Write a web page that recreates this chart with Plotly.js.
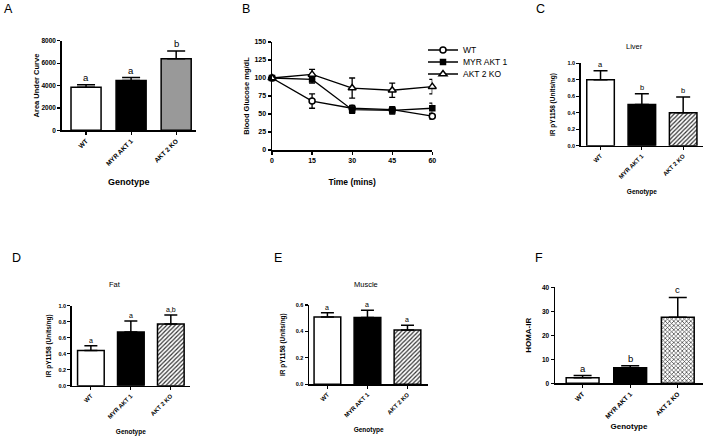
<!DOCTYPE html>
<html><head><meta charset="utf-8">
<script src="https://cdn.plot.ly/plotly-3.0.1.min.js"></script>
<style>html,body{margin:0;padding:0;background:#fff}#chart{width:708px;height:438px}</style>
</head><body><div id="chart"></div>
<script>
// ---------- data ----------
const genotypes = ['WT', 'MYR AKT 1', 'AKT 2 KO'];

const aucMean = [3840, 4450, 6390];
const aucErr = [230, 260, 680];
const aucLetters = ['a', 'a', 'b'];

const timeMins = [0, 15, 30, 45, 60];
const wtGlucose = [100, 68, 58, 56, 47];
const wtGlucoseErr = [1, 10, 4, 4, 4];
const myrGlucose = [100, 98, 56, 55, 58];
const myrGlucoseErr = [1, 5, 5, 5, 7];
const akt2Glucose = [100, 105, 86, 83, 88];
const akt2GlucoseErr = [1, 7, 14, 10, 10];

const liverMean = [0.80, 0.50, 0.40];
const liverErr = [0.11, 0.13, 0.19];
const liverLetters = ['a', 'b', 'b'];

const fatMean = [0.44, 0.67, 0.77];
const fatErr = [0.06, 0.14, 0.115];
const fatLetters = ['a', 'a', 'a,b'];

const muscleMean = [0.51, 0.505, 0.41];
const muscleErr = [0.032, 0.055, 0.037];
const muscleLetters = ['a', 'a', 'a'];

const homaMean = [2.3, 6.5, 27.5];
const homaErr = [0.9, 0.8, 8.3];
const homaLetters = ['a', 'b', 'c'];

// ---------- helpers ----------
const FONT = 'Liberation Sans, Arial, sans-serif';
const W = 708, H = 438;
const px = v => v / W;
const py = v => 1 - v / H;

// one trace per bar so the knockout bar can carry its own hatch pattern
function barTraces(n, means, errs, akColor, akShape, capW, bw) {
  const fills = ['#ffffff', '#000000', akColor];
  return genotypes.map((g, i) => {
    const m = {color: fills[i], line: {color: '#000', width: 1.5}};
    if (i === 2 && akShape) {
      m.pattern = {shape: akShape, fgcolor: '#333333', bgcolor: '#ffffff', size: 3,
                   solidity: 0.4, fillmode: 'replace'};
    }
    return {
      type: 'bar', x: [g], y: [means[i]], xaxis: 'x' + n, yaxis: 'y' + n,
      width: bw, showlegend: false, hoverinfo: 'x+y', marker: m,
      error_y: {type: 'data', symmetric: false, array: [errs[i]], arrayminus: [0],
                color: '#000', thickness: 1.5, width: capW}
    };
  });
}

function xCat(n, domain, range, tickSize, titleSize, standoff) {
  return {
    anchor: 'y' + n, categoryorder: 'array', categoryarray: genotypes,
    domain: domain, range: range, type: 'category', showline: true, linecolor: '#000', linewidth: 1.5,
    ticks: 'outside', ticklen: 3, tickwidth: 1.2, tickcolor: '#000', tickangle: -45,
    tickfont: {family: FONT, size: tickSize, color: '#000', weight: 'bold'},
    showgrid: false, zeroline: false, fixedrange: true, automargin: false,
    title: {text: 'Genotype', font: {family: FONT, size: titleSize, color: '#000', weight: 'bold'}, standoff: standoff}
  };
}
function yLin(n, domain, range, dtick, tickSize, title, titleSize, standoff, fmt) {
  return {
    anchor: 'x' + n,
    domain: domain, range: range, showline: true, linecolor: '#000', linewidth: 1.5,
    ticks: 'outside', ticklen: 3, tickwidth: 1.2, tickcolor: '#000', dtick: dtick, tick0: 0,
    tickformat: fmt || '', tickfont: {family: FONT, size: tickSize, color: '#000', weight: 'bold'},
    showgrid: false, zeroline: false, fixedrange: true, automargin: false,
    title: {text: title, font: {family: FONT, size: titleSize, color: '#000', weight: 'bold'}, standoff: standoff}
  };
}

function letters(n, means, errs, labels, size) {
  return labels.map((t, i) => ({
    xref: 'x' + n, yref: 'y' + n, x: genotypes[i], y: means[i] + errs[i], text: t,
    showarrow: false, yanchor: 'bottom', yshift: 0,
    font: {family: FONT, size: size, color: '#000'}
  }));
}

function lineTrace(name, leg, y, err, symbol, fill, size) {
  return {
    type: 'scatter', mode: 'lines+markers', name: name, x: timeMins, y: y, legend: leg,
    xaxis: 'x2', yaxis: 'y2', cliponaxis: false,
    line: {color: '#000', width: 1.3},
    marker: {symbol: symbol, size: size, color: fill, line: {color: '#000', width: 1.5}},
    error_y: {type: 'data', array: err, color: '#000', thickness: 1.3, width: 3}
  };
}

const traces = [].concat(
  barTraces(1, aucMean, aucErr, '#999999', '', 9, 0.667),
  [
    lineTrace('WT', 'legend', wtGlucose, wtGlucoseErr, 'circle', '#ffffff', 6),
    lineTrace('MYR AKT 1', 'legend2', myrGlucose, myrGlucoseErr, 'square', '#000000', 5),
    lineTrace('AKT 2 KO', 'legend3', akt2Glucose, akt2GlucoseErr, 'triangle-up', '#ffffff', 7)
  ],
  barTraces(3, liverMean, liverErr, '#ffffff', '/', 7, 0.667),
  barTraces(4, fatMean, fatErr, '#ffffff', '/', 6.5, 0.667),
  barTraces(5, muscleMean, muscleErr, '#ffffff', '/', 6.5, 0.667),
  barTraces(6, homaMean, homaErr, '#ffffff', 'x', 9, 0.69)
);

const panelLabels = [
  ['A', 8, 9], ['B', 246, 9], ['C', 540, 9], ['D', 16.5, 258], ['E', 278, 258], ['F', 539, 258]
].map(([t, x, y]) => ({xref: 'paper', yref: 'paper', x: px(x), y: py(y), text: t, showarrow: false,
  xanchor: 'center', yanchor: 'middle', font: {family: FONT, size: 12.5, color: '#000'}}));

const panelTitles = [
  ['Liver', 634, 46], ['Fat', 114.7, 284], ['Muscle', 366, 284]
].map(([t, x, y]) => ({xref: 'paper', yref: 'paper', x: px(x), y: py(y), text: t, showarrow: false,
  xanchor: 'center', yanchor: 'middle', font: {family: FONT, size: 7.5, color: '#000'}}));

function legendAt(yc) {
  return {x: px(423), y: py(yc), xanchor: 'left', yanchor: 'middle', bgcolor: 'rgba(0,0,0,0)',
          font: {family: FONT, size: 8.5, color: '#000'}, itemwidth: 30};
}

const layout = {
  width: W, height: H, margin: {l: 0, r: 0, t: 0, b: 0},
  paper_bgcolor: '#fff', plot_bgcolor: 'rgba(0,0,0,0)',
  font: {family: FONT, color: '#000'},
  barmode: 'overlay',
  showlegend: true,
  legend: legendAt(50), legend2: legendAt(62), legend3: legendAt(74),
  xaxis: xCat(1, [px(61.7), px(196)], [-0.54, 2.44], 6.5, 9, 12),
  yaxis: yLin(1, [py(130.3), py(40.7)], [0, 8000], 2000, 6.5, 'Area Under Curve', 7.5, 0),
  xaxis2: {anchor: 'y2', domain: [px(272), px(432.3)], range: [0, 60], showline: true, linecolor: '#000', linewidth: 1.5,
    ticks: 'outside', ticklen: 3, tickwidth: 1.2, tickcolor: '#000', tickvals: timeMins,
    tickfont: {family: FONT, size: 7, color: '#000', weight: 'bold'}, showgrid: false, zeroline: false, fixedrange: true,
    title: {text: 'Time (mins)', font: {family: FONT, size: 8.5, color: '#000', weight: 'bold'}, standoff: 16}},
  yaxis2: yLin(2, [py(150), py(42)], [0, 150], 25, 7, 'Blood Glucose mg/dL', 7.5, 4),
  xaxis3: xCat(3, [px(580.7), px(703)], [-0.48, 2.48], 6, 6.5, 10),
  yaxis3: yLin(3, [py(145.7), py(63.3)], [0, 1], 0.2, 5.5, 'IR pY1158 (Units/ng)', 6.5, 11, '.1f'),
  xaxis4: xCat(4, [px(71.7), px(190)], [-0.48, 2.48], 6, 6.5, 10),
  yaxis4: yLin(4, [py(385.7), py(305.7)], [0, 1], 0.2, 5.5, 'IR pY1158 (Units/ng)', 6.5, 6, '.1f'),
  xaxis5: xCat(5, [px(309), px(428.3)], [-0.46, 2.52], 6, 6.5, 10),
  yaxis5: yLin(5, [py(384.3), py(305)], [0, 0.6], 0.2, 5.5, 'IR pY1158 (Units/ng)', 6.5, 9, '.1f'),
  xaxis6: xCat(6, [px(555), px(703)], [-0.58, 2.53], 6.5, 8, 4),
  yaxis6: yLin(6, [py(383.3), py(287.3)], [0, 40], 10, 6.5, 'HOMA-IR', 8, 9),
  annotations: [].concat(
    panelLabels, panelTitles,
    letters(1, aucMean, aucErr, aucLetters, 9.5),
    letters(3, liverMean, liverErr, liverLetters, 7.5),
    letters(4, fatMean, fatErr, fatLetters, 7),
    letters(5, muscleMean, muscleErr, muscleLetters, 7),
    letters(6, homaMean, homaErr, homaLetters, 9.5)
  )
};

Plotly.newPlot('chart', traces, layout, {displayModeBar: false, staticPlot: true});
</script>
</body></html>
